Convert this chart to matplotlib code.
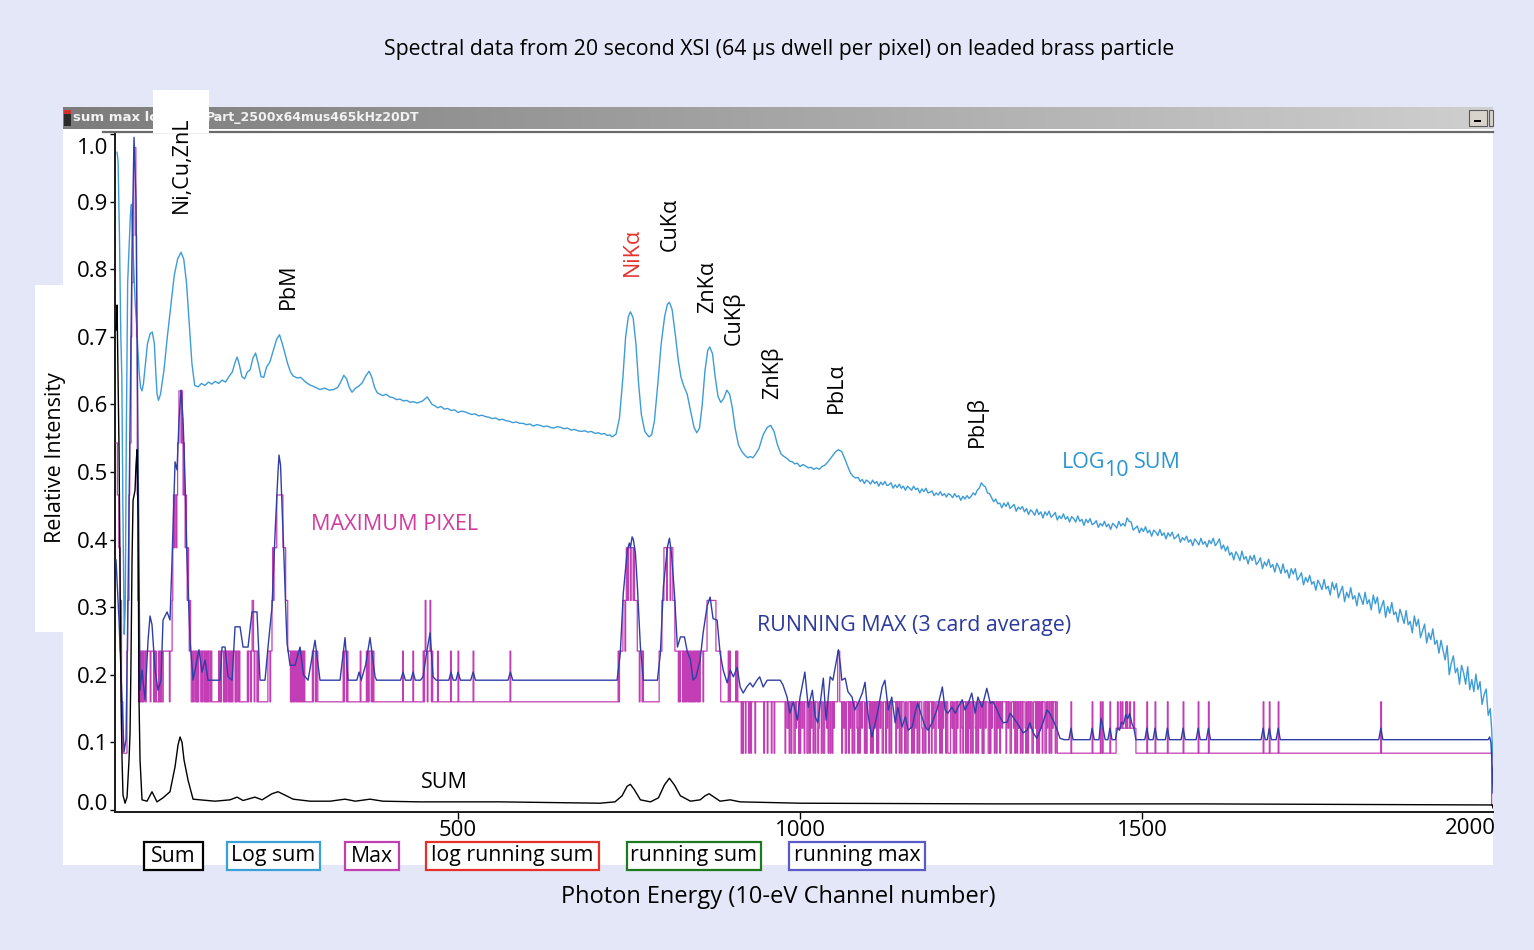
import numpy as np
import pandas as pd
import matplotlib
matplotlib.use('Agg')
import matplotlib.pyplot as plt
from matplotlib.patches import Rectangle
from matplotlib.lines import Line2D
from matplotlib.colors import LinearSegmentedColormap
from matplotlib.transforms import ScaledTranslation

plt.rcParams['font.family'] = ['Open Sans', 'DejaVu Sans']

# ---------------------------------------------------------------------------
# data: (channel, relative intensity)
# ---------------------------------------------------------------------------
n_ch = 2013

# log10 of the summed spectrum, peak region
logsum_pts = [
    (1.5, 0.973), (3, 0.96), (5, 0.85), (7, 0.70), (8.5, 0.64), (10, 0.45), (12, 0.26),
    (13.5, 0.30), (15, 0.55), (17, 0.78), (19, 0.83), (21, 0.88), (22.5, 0.896), (24, 0.85),
    (26, 0.80), (28, 0.75), (30, 0.72), (32, 0.68), (34, 0.645), (36, 0.625), (38, 0.62),
    (40, 0.63), (43, 0.66), (46, 0.69), (50, 0.705), (53, 0.707), (56, 0.69), (58, 0.65),
    (60, 0.615), (62, 0.606), (65, 0.615), (70, 0.65), (75, 0.70), (80, 0.745), (85, 0.79),
    (90, 0.815), (95, 0.825), (99, 0.815), (103, 0.78), (107, 0.72), (111, 0.66), (115, 0.628),
    (120, 0.626), (125, 0.631), (130, 0.628), (135, 0.633), (140, 0.630), (145, 0.634),
    (150, 0.631), (155, 0.636), (160, 0.633), (165, 0.641), (170, 0.648), (174, 0.662),
    (177, 0.670), (180, 0.660), (184, 0.641), (188, 0.638), (192, 0.648), (196, 0.651),
    (200, 0.668), (204, 0.676), (208, 0.660), (212, 0.641), (216, 0.640), (220, 0.655),
    (225, 0.663), (230, 0.680), (235, 0.697), (239, 0.703), (243, 0.690), (247, 0.675),
    (251, 0.660), (255, 0.648), (259, 0.642), (265, 0.639), (270, 0.640), (276, 0.634),
    (283, 0.629), (290, 0.626), (298, 0.622), (305, 0.624), (312, 0.621), (318, 0.622),
    (324, 0.625), (329, 0.634), (333, 0.643), (337, 0.638), (341, 0.625), (345, 0.618),
    (350, 0.624), (355, 0.627), (360, 0.632), (365, 0.642), (370, 0.649), (374, 0.640),
    (378, 0.625), (382, 0.617), (386, 0.615), (390, 0.613), (395, 0.615), (400, 0.611),
    (405, 0.610), (410, 0.607), (415, 0.608), (420, 0.605), (425, 0.606), (430, 0.603),
    (435, 0.604), (440, 0.602), (448, 0.605), (455, 0.611), (462, 0.600), (466, 0.598),
    (470, 0.595), (475, 0.597), (480, 0.593), (485, 0.594), (490, 0.591), (495, 0.592),
    (500, 0.588), (505, 0.590), (510, 0.589), (515, 0.587), (520, 0.585), (525, 0.586),
    (530, 0.583), (535, 0.584), (540, 0.582), (545, 0.581), (550, 0.579), (555, 0.580),
    (560, 0.577), (565, 0.578), (570, 0.576), (575, 0.575), (580, 0.573), (585, 0.574),
    (590, 0.572), (595, 0.572), (600, 0.570), (605, 0.571), (610, 0.568), (615, 0.570),
    (620, 0.569), (625, 0.567), (630, 0.568), (635, 0.566), (640, 0.565), (645, 0.567),
    (650, 0.566), (655, 0.564), (660, 0.565), (665, 0.562), (670, 0.563), (675, 0.561),
    (680, 0.560), (685, 0.561), (690, 0.559), (695, 0.560), (700, 0.557), (705, 0.558),
    (710, 0.556), (714, 0.557), (718, 0.554), (722, 0.555), (725, 0.552), (731, 0.556),
    (736, 0.580), (741, 0.640), (745, 0.700), (749, 0.730), (752, 0.737), (756, 0.728),
    (760, 0.690), (764, 0.630), (768, 0.585), (773, 0.560), (779, 0.552), (783, 0.555),
    (787, 0.575), (792, 0.630), (797, 0.690), (802, 0.730), (806, 0.748), (809, 0.751),
    (813, 0.740), (818, 0.700), (822, 0.665), (826, 0.640), (830, 0.627), (835, 0.615),
    (840, 0.590), (845, 0.566), (849, 0.558), (853, 0.565), (857, 0.600), (861, 0.650),
    (865, 0.680), (868, 0.685), (872, 0.675), (876, 0.640), (880, 0.612), (884, 0.603),
    (888, 0.608), (893, 0.621), (897, 0.615), (901, 0.595), (905, 0.565), (910, 0.540),
    (915, 0.530), (920, 0.524), (924, 0.521), (927, 0.523), (931, 0.521), (934, 0.525),
    (940, 0.535), (946, 0.555), (952, 0.566), (957, 0.569), (962, 0.560), (967, 0.540),
    (972, 0.527), (975, 0.524), (978, 0.522), (982, 0.519), (985, 0.516), (989, 0.515),
    (992, 0.512), (996, 0.513), (1000, 0.508), (1004, 0.511), (1008, 0.509), (1012, 0.506),
    (1016, 0.507), (1020, 0.504), (1024, 0.506), (1028, 0.504), (1032, 0.508), (1036, 0.510),
    (1040, 0.514), (1046, 0.522), (1052, 0.530), (1056, 0.533), (1061, 0.530), (1066, 0.518),
    (1071, 0.505), (1074, 0.498), (1077, 0.494), (1081, 0.491),
]
# noisy high-energy part of the log sum, every 3 channels from channel 1085
logsum_tail_start = 1085
logsum_tail = [
    0.492, 0.486, 0.489, 0.483, 0.488, 0.486, 0.482, 0.488, 0.483, 0.486,
    0.479, 0.485, 0.481, 0.486, 0.480, 0.481, 0.484, 0.476, 0.481, 0.477,
    0.482, 0.476, 0.479, 0.473, 0.479, 0.476, 0.473, 0.479, 0.474, 0.476,
    0.469, 0.475, 0.471, 0.476, 0.469, 0.470, 0.472, 0.465, 0.469, 0.466,
    0.471, 0.465, 0.468, 0.463, 0.468, 0.466, 0.462, 0.468, 0.463, 0.465,
    0.458, 0.464, 0.460, 0.465, 0.461, 0.464, 0.469, 0.466, 0.473, 0.476,
    0.484, 0.480, 0.478, 0.469, 0.468, 0.462, 0.456, 0.460, 0.453, 0.454,
    0.447, 0.454, 0.449, 0.455, 0.446, 0.449, 0.452, 0.442, 0.448, 0.445,
    0.449, 0.441, 0.446, 0.437, 0.444, 0.441, 0.436, 0.445, 0.437, 0.441,
    0.432, 0.441, 0.436, 0.442, 0.433, 0.436, 0.440, 0.429, 0.435, 0.431,
    0.438, 0.430, 0.434, 0.426, 0.434, 0.431, 0.426, 0.435, 0.427, 0.430,
    0.421, 0.430, 0.425, 0.431, 0.422, 0.424, 0.428, 0.418, 0.424, 0.420,
    0.427, 0.419, 0.423, 0.415, 0.424, 0.421, 0.417, 0.427, 0.420, 0.424,
    0.420, 0.432, 0.427, 0.426, 0.414, 0.417, 0.420, 0.410, 0.417, 0.412,
    0.419, 0.410, 0.414, 0.405, 0.414, 0.411, 0.406, 0.415, 0.406, 0.410,
    0.401, 0.410, 0.405, 0.411, 0.401, 0.404, 0.408, 0.396, 0.403, 0.399,
    0.405, 0.396, 0.400, 0.391, 0.401, 0.397, 0.392, 0.402, 0.393, 0.397,
    0.389, 0.399, 0.394, 0.402, 0.391, 0.395, 0.401, 0.386, 0.392, 0.383,
    0.390, 0.377, 0.381, 0.370, 0.382, 0.377, 0.369, 0.383, 0.371, 0.375,
    0.364, 0.376, 0.369, 0.377, 0.363, 0.367, 0.373, 0.357, 0.367, 0.361,
    0.371, 0.359, 0.363, 0.352, 0.365, 0.359, 0.350, 0.364, 0.351, 0.355,
    0.343, 0.357, 0.349, 0.357, 0.340, 0.345, 0.351, 0.333, 0.344, 0.337,
    0.347, 0.334, 0.338, 0.325, 0.340, 0.334, 0.326, 0.341, 0.327, 0.331,
    0.318, 0.337, 0.326, 0.335, 0.314, 0.323, 0.331, 0.308, 0.322, 0.314,
    0.329, 0.312, 0.317, 0.302, 0.321, 0.313, 0.304, 0.322, 0.305, 0.311,
    0.296, 0.318, 0.305, 0.315, 0.291, 0.301, 0.310, 0.285, 0.301, 0.291,
    0.307, 0.289, 0.293, 0.278, 0.297, 0.287, 0.276, 0.295, 0.274, 0.279,
    0.262, 0.287, 0.272, 0.282, 0.255, 0.265, 0.275, 0.247, 0.262, 0.252,
    0.268, 0.245, 0.251, 0.232, 0.251, 0.236, 0.222, 0.243, 0.200, 0.217,
    0.228, 0.203, 0.210, 0.186, 0.214, 0.203, 0.186, 0.212, 0.178, 0.193,
    0.175, 0.201, 0.178, 0.190, 0.156, 0.171, 0.179, 0.140, 0.150,
]
logsum_end = [(2011, 0.120), (2012, 0.095), (2013, 0.074)]

# summed spectrum
sum_pts = [
    (0, 0.71), (1.5, 0.747), (4.4, 0.533), (7.3, 0.163), (8.8, 0.074), (10.2, 0.022),
    (13.2, 0.010), (16.1, 0.019), (19, 0.074), (20.5, 0.114), (21.9, 0.222), (23.4, 0.37),
    (24.9, 0.458), (27.8, 0.473), (29.2, 0.51), (30.7, 0.533), (32.2, 0.429), (33.6, 0.163),
    (35.1, 0.074), (38, 0.015), (45.3, 0.013), (52.6, 0.027), (59.9, 0.012), (68.7, 0.018),
    (78.9, 0.027), (86.3, 0.064), (90.6, 0.096), (93.6, 0.108), (96.5, 0.100), (99.4, 0.074),
    (105.3, 0.044), (112.6, 0.016), (122.8, 0.015), (144.7, 0.013), (166.7, 0.015),
    (176.9, 0.019), (185.7, 0.014), (203.2, 0.019), (213.5, 0.015), (228, 0.024),
    (236.8, 0.027), (247, 0.022), (258.8, 0.016), (283.6, 0.013), (312.9, 0.013),
    (334.8, 0.016), (350, 0.013), (371.3, 0.016), (390, 0.013), (444.4, 0.012),
    (561.4, 0.012), (707.6, 0.010), (729.5, 0.012), (739.8, 0.021), (747.1, 0.035),
    (751.9, 0.038), (757.7, 0.030), (766.6, 0.015), (781.3, 0.012), (793, 0.018),
    (801.7, 0.037), (809, 0.047), (816.3, 0.037), (825, 0.021), (839.8, 0.013),
    (853.9, 0.015), (861.2, 0.021), (867, 0.024), (874.3, 0.019), (883.1, 0.013),
    (897.8, 0.015), (912.4, 0.012), (1000, 0.010), (1292, 0.009), (1585, 0.009),
    (2012, 0.0074), (2013, 0.003),
]

# running max (3 card average)
runmax_pts = [
    (0, 0.37), (4.4, 0.28), (8.8, 0.163), (11.7, 0.086), (14.6, 0.104), (17.5, 0.311),
    (20.5, 0.577), (23.4, 0.828), (26.3, 0.995), (29.2, 0.902), (32.2, 0.533), (35.1, 0.177),
    (38, 0.207), (42.4, 0.163), (46.8, 0.251), (49.7, 0.287), (52.6, 0.274), (57, 0.207),
    (61.4, 0.177), (65.8, 0.192), (68.7, 0.281), (74.6, 0.293), (78.9, 0.281), (81.9, 0.37),
    (86.3, 0.515), (89.2, 0.503), (92.1, 0.577), (95, 0.621), (98, 0.577), (100.9, 0.488),
    (103.8, 0.37), (108.2, 0.251), (112.6, 0.192), (117, 0.214), (121.3, 0.237),
    (125.7, 0.204), (130.1, 0.222), (134.5, 0.192), (152, 0.192), (155, 0.241),
    (159.4, 0.241), (163.7, 0.197), (169.6, 0.192), (174, 0.271), (181.3, 0.271),
    (185.7, 0.241), (193, 0.241), (198.8, 0.293), (206.1, 0.293), (210.5, 0.192),
    (217.8, 0.192), (222.2, 0.241), (228, 0.30), (233, 0.42), (236.8, 0.50), (238.3, 0.525),
    (240.5, 0.51), (243, 0.44), (245, 0.389), (248, 0.30), (250, 0.247), (254.4, 0.214),
    (261.7, 0.214), (269, 0.241), (274, 0.20), (280.7, 0.192), (290.9, 0.251), (298.2, 0.192),
    (327.5, 0.192), (334.8, 0.255), (339.2, 0.192), (352, 0.192), (355.3, 0.204),
    (358.5, 0.192), (365, 0.215), (371.3, 0.255), (378.7, 0.197), (381, 0.192), (416, 0.192),
    (419.6, 0.204), (423, 0.192), (431, 0.192), (434.2, 0.204), (437.5, 0.192), (445, 0.192),
    (448.8, 0.197), (454.7, 0.237), (459.1, 0.262), (463.5, 0.197), (468, 0.192),
    (486.5, 0.192), (489.8, 0.204), (493, 0.192), (497, 0.192), (500, 0.204), (503.5, 0.192),
    (518.5, 0.192), (522, 0.204), (525.5, 0.192), (573, 0.192), (576.5, 0.204), (580, 0.192),
    (732.5, 0.192), (737.2, 0.232), (741.6, 0.321), (747.5, 0.385), (750.5, 0.395),
    (752, 0.388), (754.5, 0.404), (756.3, 0.40), (759.3, 0.38), (762.2, 0.33), (766.6, 0.241),
    (771, 0.192), (791.5, 0.192), (795.8, 0.232), (800.2, 0.33), (806.1, 0.389), (809, 0.402),
    (812, 0.38), (816.3, 0.321), (820.7, 0.241), (825.1, 0.256), (831, 0.256), (835, 0.235),
    (839.8, 0.222), (843.6, 0.192), (848, 0.197), (853.9, 0.222), (858.3, 0.262),
    (864, 0.301), (868.5, 0.315), (872.8, 0.283), (878.7, 0.281), (883.1, 0.232),
    (887.6, 0.207), (893.4, 0.188), (898, 0.207), (902.5, 0.197), (908.1, 0.211),
    (912.4, 0.182), (916.9, 0.173), (922, 0.182), (927, 0.188), (931, 0.182), (937, 0.192),
    (941, 0.197), (946, 0.182), (952, 0.192), (971, 0.192), (975, 0.185), (981, 0.167),
    (985, 0.143), (990, 0.160), (996, 0.133), (1000, 0.167), (1007, 0.204), (1012, 0.152),
    (1018, 0.177), (1022, 0.138), (1026, 0.129), (1034, 0.195), (1038, 0.133), (1044, 0.197),
    (1048, 0.192), (1054, 0.226), (1056, 0.237), (1059, 0.214), (1061, 0.192), (1066, 0.195),
    (1070, 0.175), (1076, 0.167), (1080, 0.148), (1085, 0.158), (1091, 0.173), (1095, 0.189),
    (1099, 0.143), (1105, 0.108), (1110, 0.129), (1114, 0.148), (1120, 0.182), (1124, 0.192),
    (1129, 0.148), (1134, 0.167), (1139, 0.129), (1143, 0.152), (1149, 0.123), (1154, 0.138),
    (1158, 0.118), (1164, 0.123), (1168, 0.143), (1172, 0.158), (1178, 0.138), (1183, 0.123),
    (1187, 0.118), (1193, 0.129), (1200, 0.148), (1208, 0.182), (1212, 0.148), (1216, 0.143),
    (1222, 0.152), (1227, 0.143), (1231, 0.152), (1237, 0.163), (1241, 0.148), (1246, 0.158),
    (1251, 0.173), (1256, 0.143), (1260, 0.167), (1266, 0.152), (1273, 0.180), (1278, 0.158),
    (1282, 0.160), (1288, 0.148), (1292, 0.138), (1297, 0.129), (1303, 0.130), (1307, 0.143),
    (1311, 0.138), (1317, 0.129), (1322, 0.121), (1326, 0.114), (1332, 0.118), (1336, 0.129),
    (1341, 0.114), (1346, 0.106), (1351, 0.118), (1355, 0.129), (1361, 0.148), (1365, 0.143),
    (1370, 0.133), (1376, 0.118), (1380, 0.106), (1386, 0.104),
    (1393, 0.104), (1396, 0.121), (1399, 0.104), (1424, 0.104), (1427, 0.121), (1430, 0.104),
    (1437, 0.104), (1440, 0.136), (1443, 0.121), (1446, 0.104), (1450, 0.104), (1453, 0.121),
    (1456, 0.104), (1461, 0.104), (1464, 0.121), (1467, 0.118), (1470, 0.130), (1473, 0.127),
    (1476, 0.141), (1479, 0.135), (1482, 0.143), (1485, 0.128), (1488, 0.121), (1491, 0.104),
    (1504, 0.104), (1507, 0.121), (1510, 0.104), (1516, 0.104), (1519, 0.121), (1522, 0.104),
    (1534, 0.104), (1537, 0.121), (1540, 0.104), (1557, 0.104), (1560, 0.121), (1563, 0.104),
    (1579, 0.104), (1582, 0.121), (1585, 0.104), (1594, 0.104), (1597, 0.121), (1600, 0.104),
    (1674, 0.104), (1677, 0.121), (1680, 0.104), (1683, 0.104), (1686, 0.121), (1689, 0.104),
    (1696, 0.104), (1699, 0.121), (1702, 0.104), (1846, 0.104), (1849, 0.121), (1852, 0.104),
    (2006, 0.104), (2008, 0.108), (2010, 0.100), (2012, 0.060), (2013, 0.025),
]

# maximum pixel spectrum: quantised levels, one code letter per channel,
# each run starts at the given channel and the last level holds until the next run
max_levels = {'z': 0.007, 'a': 0.084, 'b': 0.121, 'c': 0.16, 'd': 0.235, 'e': 0.31,
              'f': 0.388, 'g': 0.466, 'h': 0.543, 'i': 0.62, 'j': 0.70, 'k': 0.78,
              'l': 0.85, 'm': 0.98}
max_runs = [
    (0, "hhggffdeccaaaaaadeeghhjkklmmmljgecc"),
    (35, "dcdcdcddcd" "dddddcdddd" "cdcdcccdcdcdcc" "dddddddddcddd"),
    (82, "efgfggfg" "hhiiihih" "ghgfgfef" "ededc"),
    (111, "cdcddcdcdcdddcdcddcdcdcdcddcdcc"),
    (150, "dcdcdddcdcdcddcdcdcdcdddcdcddcdcc"),
    (192, "dcdddcdeedcdddcdc"),
    (222, "dddcddefeffffgggggggggffffeeedddd"),
    (255, "cdcdcdcddcdcdcdcdcdcdcc"),
    (286, "cdcdddcddcc"),
    (331, "cdcdddcdcc"),
    (357, "dc"),
    (362, "ccccdcdcdddcdcdcc"),
    (419, "dc"), (434, "dc"),
    (448, "cdcdeddcdddedcdc"),
    (470, "dc"), (489, "dc"), (500, "dc"), (522, "dc"), (576, "dc"),
    (731, "ccc" "dcddddd" "eeede" "ffefffefffef" "eeee" "dddcdd" "dcd" "c"),
    (791, "ccc" "dddd" "eee" "ffffeffffefff" "eee" "ddddd"
          "cdcdddcdcdcdcddcdcdccdcdcddcdcdcd"),
    (855, "dddcddddd" "eeeeeeeeeeeee" "ddddddd" "c"),
    (895, "dcdc"), (906, "dcdc"),
    (913, "cacacccaccccaccacccccacccc"),
    (945, "ccaccccacccccacccac"),
    (976, "ccaccbbcaccacccaacbcccacaccbccacccaaccacbccaccacccabcccaccaacccbcaccaccacbcc"),
    (1054, "cdddc"),
    (1060, "caccbcaacccacbccaccacccbaccaccbcccaacacccbcaccaccbccacaccbccaacccacbccaccaccc"),
    (1140, "acbccaccacccbaccaacccbcaccacbccaccacccbaaccaccbcacccacbccaacccbcaccacbcccacca"),
    (1220, "ccbcaaccacbcccaccbacccaccacbcaccacccbaccaccbccacaccbcccaacacbcccaccacbccaccbc"),
    (1300, "caccbccaacccbcaccacbccaccacccbaccaccbccaacccbcaccaccbcacccaacbccaccacbcccacca"),
    (1380, "a"),
    (1396, "ca"), (1427, "ca"), (1439, "caaca"), (1453, "ca"),
    (1462, "bbcbbbcbbcbbbbcbcbbbcbbbbbcbba"),
    (1507, "ca"), (1519, "ca"), (1537, "ca"), (1560, "ca"), (1582, "ca"), (1597, "ca"),
    (1677, "ca"), (1686, "ca"), (1699, "ca"), (1849, "ca"),
    (2011, "zz"),
]

x_ticks = [500, 1000, 1500]
y_ticks = [0.0, 0.1, 0.2, 0.3, 0.4, 0.5, 0.6, 0.7, 0.8, 0.9, 1.0]

# peak labels: text, pixel position of the label centre, colour
peak_labels = [("Ni,Cu,ZnL", 181, 165, 'black'), ("PbM", 288, 286, 'black'),
               ("NiKα", 632, 252, '#e8302a'), ("CuKα", 670, 224, 'black'),
               ("ZnKα", 708, 287, 'black'), ("CuKβ", 734, 318, 'black'),
               ("ZnKβ", 772, 373, 'black'), ("PbLα", 836, 388, 'black'),
               ("PbLβ", 977, 422, 'black')]
legend_items = [("Sum", 144, 203, 'black'), ("Log sum", 227, 320, '#3ba0d8'),
                ("Max", 345, 399, '#c040b0'), ("log running sum", 426, 599, '#e8302a'),
                ("running sum", 627, 761, '#1e7a1e'), ("running max", 789, 925, '#5a5ac8')]

# ---------------------------------------------------------------------------
ls = np.array(logsum_pts).T
tail_ch = logsum_tail_start + 3 * np.arange(len(logsum_tail))
ls_ch = np.concatenate([ls[0], tail_ch, [p[0] for p in logsum_end]])
ls_val = np.concatenate([ls[1], logsum_tail, [p[1] for p in logsum_end]])
sm = np.array(sum_pts).T
rm = np.array(runmax_pts).T

max_vals = np.full(n_ch, np.nan)
for start, codes in max_runs:
    vals = [max_levels[c] for c in codes]
    stop = min(start + len(vals), n_ch)
    max_vals[start:stop] = vals[:stop - start]
max_vals = pd.Series(max_vals).ffill().to_numpy()

W, H = 1534, 950
fig = plt.figure(figsize=(W / 100, H / 100), dpi=100)
fig.patch.set_facecolor('#e3e7f7')


def fx(px):
    return px / W


def fy(py):
    return 1 - py / H


def frect(x0, y0, x1, y1, **kw):
    r = Rectangle((fx(x0), fy(y1)), fx(x1) - fx(x0), fy(y0) - fy(y1),
                  transform=fig.transFigure, **kw)
    fig.add_artist(r)
    return r


# white panels
frect(63, 107, 1493, 865, facecolor='white', edgecolor='none', zorder=-5)
frect(35, 285, 113, 632, facecolor='white', edgecolor='none', zorder=-5)

# window title bar
bar = fig.add_axes([fx(63), fy(129), fx(1493) - fx(63), fy(107) - fy(129)])
bar.imshow(np.linspace(0, 1, 256).reshape(1, -1), aspect='auto', extent=[0, 1, 0, 1],
           cmap=LinearSegmentedColormap.from_list('bar', ['#7c7c7c', '#cfcfcf']))
bar.axis('off')
fig.text(fx(73), fy(118), "sum max log", color='#f2f2f2', fontsize=9.5,
         family='DejaVu Sans', weight='bold', va='center', zorder=3)
fig.text(fx(206), fy(118), "Part_2500x64mus465kHz20DT", color='#f2f2f2', fontsize=9,
         family='DejaVu Sans', weight='bold', va='center', zorder=3)
frect(64, 110, 71, 126, facecolor='#2a2a2a', edgecolor='none', zorder=3)
frect(64, 110, 71, 114, facecolor='#d03030', edgecolor='none', zorder=3)
frect(1469, 110, 1487, 126, facecolor='#d8d4cc', edgecolor='#5a5a5a', lw=0.8, zorder=3)
frect(1474, 120, 1481, 122, facecolor='black', edgecolor='none', zorder=4)
frect(1489, 110, 1493, 126, facecolor='#d8d4cc', edgecolor='#5a5a5a', lw=0.8, zorder=3)
fig.add_artist(Line2D([fx(103), fx(1493)], [fy(132), fy(132)], color='#6a6a6a', lw=1.6,
                      transform=fig.transFigure, zorder=3))
frect(153, 90, 209, 133, facecolor='white', edgecolor='none', zorder=4)

# main plot
ax = fig.add_axes([fx(115), fy(812), fx(1493) - fx(115), fy(133) - fy(812)])
ax.plot(ls_ch, ls_val, color='#3d9cd6', lw=1.0, zorder=2)
ax.step(np.arange(n_ch), max_vals, where='post', color='#c33db4', lw=0.9, zorder=3)
ax.plot(rm[0], rm[1], color='#2f3ea6', lw=1.0, zorder=4)
ax.plot(sm[0], sm[1], color='black', lw=1.0, zorder=5)

ax.set_xlim(-1.5, 2013)
ax.set_ylim(-0.003, 1.0015)
for s in ['top', 'right']:
    ax.spines[s].set_visible(False)
for s in ['left', 'bottom']:
    ax.spines[s].set_color('#1a1a1a')
    ax.spines[s].set_linewidth(1.4)
ax.set_xticks(x_ticks)
ax.set_xticklabels([str(t) for t in x_ticks])
ax.set_yticks(y_ticks)
ax.set_yticklabels([f"{t:.1f}" for t in y_ticks])
ax.tick_params(axis='x', direction='out', length=5, width=1, pad=1, labelsize=16)
ax.tick_params(axis='y', direction='out', length=3.5, width=1, pad=1.5, labelsize=16)
ylabels = ax.get_yticklabels()
ylabels[0].set_va('baseline')
ylabels[-1].set_va('top')
ylabels[-1].set_transform(ylabels[-1].get_transform()
                          + ScaledTranslation(0, -0.04, fig.dpi_scale_trans))
ax.annotate("2000", xy=(2000, 0), xycoords=('data', 'axes fraction'), xytext=(-14, -16),
            textcoords='offset pixels', ha='center', va='center', fontsize=16,
            annotation_clip=False)

# texts
fig.text(fx(779), fy(50), "Spectral data from 20 second XSI (64 μs dwell per pixel) on leaded brass particle",
         ha='center', va='center', fontsize=15.3)
fig.text(fx(778), fy(897), "Photon Energy (10-eV Channel number)", ha='center', va='center',
         fontsize=17)
fig.text(fx(56), fy(458), "Relative Intensity", ha='center', va='center', rotation=90,
         fontsize=15.5)
for txt, px, py, col in peak_labels:
    fig.text(fx(px), fy(py), txt, ha='center', va='center', rotation=90, fontsize=15.5,
             color=col, zorder=6)
fig.text(fx(395), fy(524), "MAXIMUM PIXEL", ha='center', va='center', fontsize=15.6,
         color='#d23a9e')
fig.text(fx(914), fy(626), "RUNNING MAX (3 card average)", ha='center', va='center',
         fontsize=15.4, color='#2b3a9c')
fig.text(fx(1062), fy(462), "LOG", ha='left', va='center', fontsize=15.5, color='#2a96d0')
fig.text(fx(1104), fy(470), "10", ha='left', va='center', fontsize=15.5, color='#2a96d0')
fig.text(fx(1134), fy(462), "SUM", ha='left', va='center', fontsize=15.5, color='#2a96d0')
fig.text(fx(444), fy(783), "SUM", ha='center', va='center', fontsize=15.5, color='black')

for txt, x0, x1, col in legend_items:
    frect(x0, 842, x1, 870, facecolor='white', edgecolor=col, lw=1.6, zorder=3)
    fig.text(fx((x0 + x1) / 2), fy(856), txt, ha='center', va='center', fontsize=15.3,
             zorder=4)

fig.savefig('out.png', dpi=100, facecolor=fig.get_facecolor())
